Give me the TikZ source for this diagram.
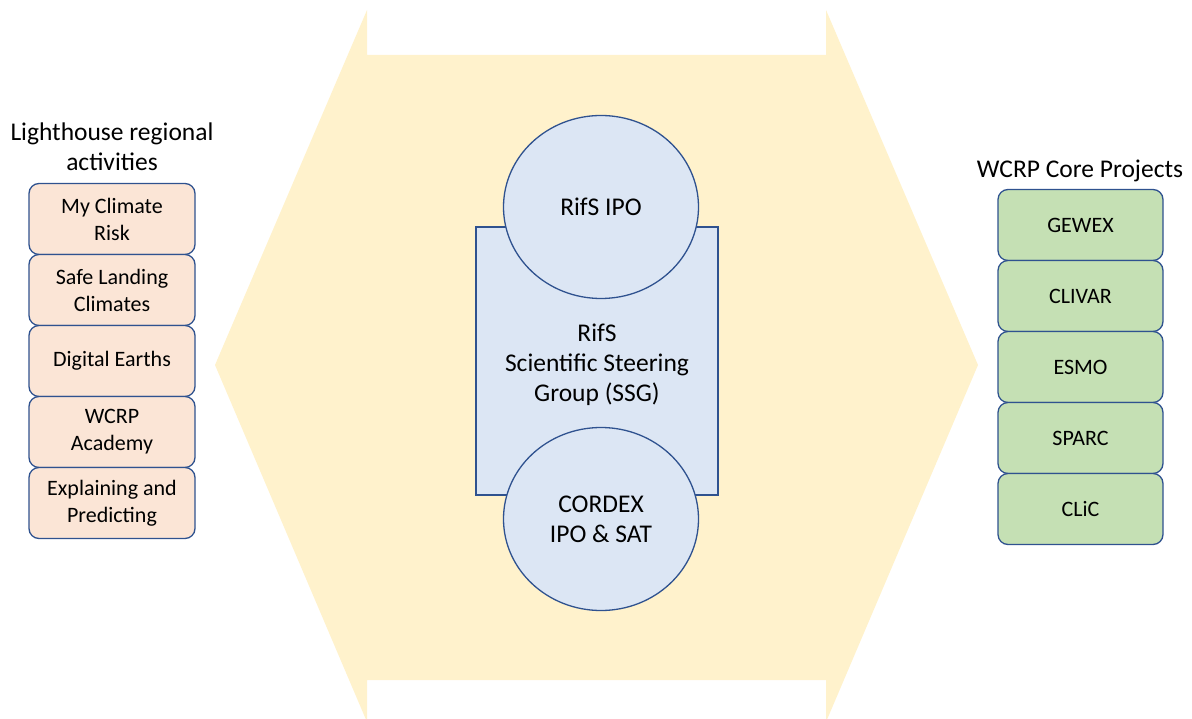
\documentclass[tikz,border=0pt]{standalone}
\usepackage{fontspec}
\setmainfont{Carlito}
\usetikzlibrary{shapes.geometric}

\definecolor{bandfill}{HTML}{FFF2CC}
\definecolor{boxline}{HTML}{2F528F}
\definecolor{lhfill}{HTML}{FBE5D6}
\definecolor{corefill}{HTML}{C5E0B4}
\definecolor{rifsfill}{HTML}{DCE6F4}

\begin{document}
\begin{tikzpicture}[x=1pt,y=-1pt,
    bigtext/.style={font=\fontsize{25.5}{30}\selectfont,align=center},
    boxtext/.style={font=\fontsize{22}{27}\selectfont,align=center},
    lhbox/.style={boxtext,draw=boxline,line width=1.3pt,fill=lhfill,rounded corners=10pt,
      minimum width=166pt,minimum height=71pt,inner sep=0pt},
    corebox/.style={lhbox,fill=corefill,minimum width=165pt},
    rifsbox/.style={bigtext,draw=boxline,line width=1.3pt,fill=rifsfill,inner sep=0pt},
    rifscircle/.style={rifsbox,ellipse,minimum width=195pt,minimum height=183pt}]
    \useasboundingbox (0,0) rectangle (1192,719);

    % background band with the two notches
    \fill[bandfill] (215,365) -- (367,10) -- (367,55) -- (826,55) -- (826,10) -- (978,365)
      -- (826,722) -- (826,680) -- (367,680) -- (367,722) -- cycle;

    % RifS in the middle
    \node[rifsbox,minimum width=242pt,minimum height=268pt] (ssg) at (597,361) {};
    \node[bigtext] (ssgtext) at (597,365) {RifS\\Scientific Steering\\Group (SSG)};
    \node[rifscircle] (ipo) at (601,207) {RifS IPO};
    \node[rifscircle] (cordex) at (601,519) {CORDEX\\IPO \& SAT};

    % lighthouse activities
    \node[bigtext] (lhtitle) at (112,147) {Lighthouse regional\\activities};
    \node[lhbox] (mcr) at (112,219) {My Climate\\Risk};
    \node[lhbox] (slc) at (112,290) {Safe Landing\\Climates};
    \node[lhbox] (de) at (112,361) {Digital Earths};
    \node[lhbox] (acad) at (112,432) {WCRP\\Academy};
    \node[lhbox] (ep) at (112,503) {Explaining and\\Predicting};

    % core projects
    \node[bigtext] (coretitle) at (1080,171) {WCRP Core Projects};
    \node[corebox] (gewex) at (1080.5,225) {GEWEX};
    \node[corebox] (clivar) at (1080.5,296) {CLIVAR};
    \node[corebox] (esmo) at (1080.5,367) {ESMO};
    \node[corebox] (sparc) at (1080.5,438) {SPARC};
    \node[corebox] (clic) at (1080.5,509) {CLiC};
  \end{tikzpicture}
\end{document}
